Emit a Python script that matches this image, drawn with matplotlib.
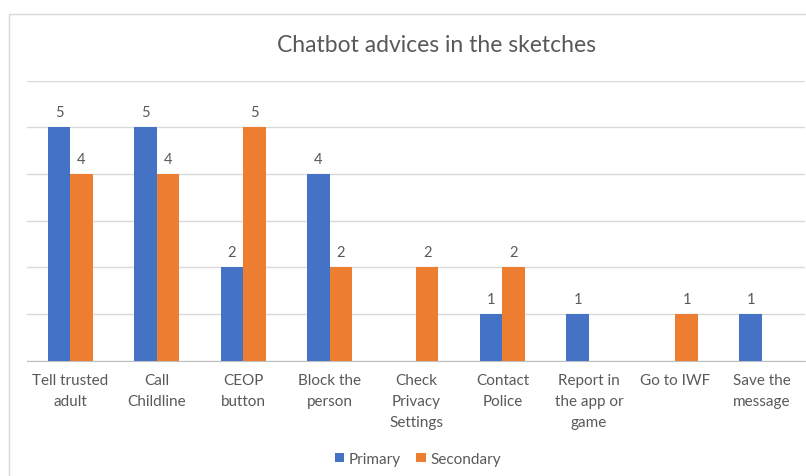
import matplotlib as mpl
mpl.use("Agg")
import matplotlib.pyplot as plt
from matplotlib.patches import Rectangle
import numpy as np

categories = ["Tell trusted\nadult", "Call\nChildline", "CEOP\nbutton", "Block the\nperson",
              "Check\nPrivacy\nSettings", "Contact\nPolice", "Report in\nthe app or\ngame",
              "Go to IWF", "Save the\nmessage"]
primary = [5, 5, 2, 4, 0, 1, 1, 0, 1]
secondary = [4, 4, 5, 2, 2, 2, 0, 1, 0]

BLUE = "#4472C4"
ORANGE = "#ED7D31"
TEXT = "#595959"

plt.rcParams['font.family'] = ['Lato', 'DejaVu Sans']

W, H = 806, 477
fig = plt.figure(figsize=(W / 100, H / 100), dpi=100)

# chart border (right and bottom edges fall outside the picture)
fig.add_artist(Rectangle((9 / W, -0.1), 1.1, 1 - 15 / H + 0.1, transform=fig.transFigure,
                         fill=False, edgecolor="#D9D9D9", linewidth=1.0))

ax = fig.add_axes([27 / W, 1 - 361.5 / H, 778 / W, 280 / H])
x = np.arange(len(categories))
w = 0.26
b1 = ax.bar(x - w / 2, primary, w, color=BLUE, label="Primary", zorder=3)
b2 = ax.bar(x + w / 2, secondary, w, color=ORANGE, label="Secondary", zorder=3)

for bars, vals in ((b1, primary), (b2, secondary)):
    for r, v in zip(bars, vals):
        if v:
            ax.text(r.get_x() + r.get_width() / 2, v + 0.17, str(v), ha="center", va="bottom",
                    fontsize=10.5, color=TEXT)

ax.set_xlim(-0.5, len(categories) - 0.5)
ax.set_ylim(0, 6)
ax.set_yticks(range(0, 7))
ax.yaxis.grid(True, color="#D9D9D9", linewidth=1.0, zorder=0)
ax.tick_params(axis="y", left=False, labelleft=False)
ax.set_xticks(x)
ax.set_xticklabels(categories, fontsize=11, color=TEXT, linespacing=1.65)
ax.tick_params(axis="x", length=0, pad=9)
for s in ("top", "right", "left"):
    ax.spines[s].set_visible(False)
ax.spines["bottom"].set_color("#BFBFBF")
ax.set_axisbelow(True)

fig.text(437 / W, 1 - 46 / H, "Chatbot advices in the sketches", ha="center", va="center",
         fontsize=16.5, color=TEXT)

fig.legend(handles=[b1, b2], loc="center", bbox_to_anchor=(418 / W, 1 - 460 / H), ncol=2,
           frameon=False, fontsize=11, handlelength=0.6, handleheight=0.6,
           handletextpad=0.3, columnspacing=1.0, labelcolor=TEXT)

fig.savefig("out.png", dpi=100)
